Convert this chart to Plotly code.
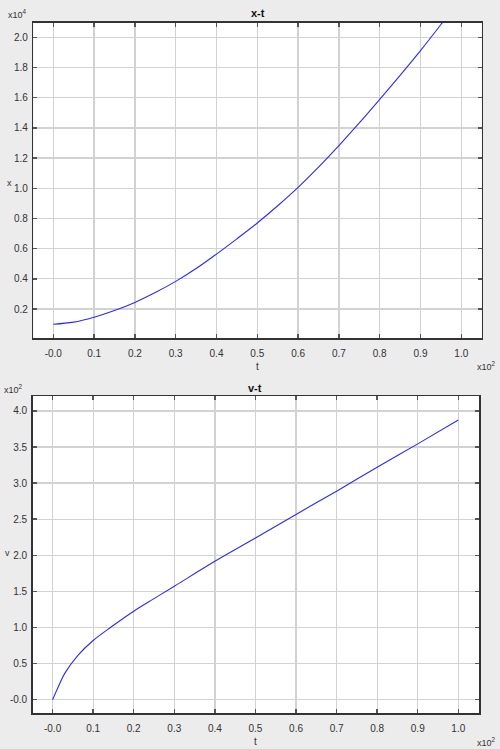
import plotly.graph_objects as go

# ---- data (t in s, x in m, v in m/s) ----
t_x = [0, 5, 10, 15, 20, 25, 30, 35, 40, 45, 50, 55, 60, 65, 70, 75, 80, 85, 90, 95, 100]
x_vals = [990, 1130, 1460, 1900, 2440, 3090, 3830, 4680, 5640, 6650, 7700, 8840,
          10060, 11400, 12830, 14330, 15890, 17480, 19120, 20850, 22640]

t_v = [0, 1.5, 3, 6.3, 10, 14.5, 20, 25, 30, 40, 50, 60, 70, 80, 90, 100]
v_vals = [0, 19, 36.5, 61.8, 82, 101, 122.6, 140, 157.2, 191.7, 223.9, 256.7,
          288.9, 322, 354.4, 387.5]

t_ticks = [0, 10, 20, 30, 40, 50, 60, 70, 80, 90, 100]
t_ticktext = ["-0.0", "0.1", "0.2", "0.3", "0.4", "0.5", "0.6", "0.7", "0.8", "0.9", "1.0"]
x_ticks = [2000, 4000, 6000, 8000, 10000, 12000, 14000, 16000, 18000, 20000]
x_ticktext = ["0.2", "0.4", "0.6", "0.8", "1.0", "1.2", "1.4", "1.6", "1.8", "2.0"]
v_ticks = [0, 50, 100, 150, 200, 250, 300, 350, 400]
v_ticktext = ["-0.0", "0.5", "1.0", "1.5", "2.0", "2.5", "3.0", "3.5", "4.0"]

W, H = 500, 749
FONT = "Liberation Sans, Arial, sans-serif"
LINE = "#2a2aff"

def px(x):
    return x / W

def py(y):
    return 1 - y / H

fig = go.Figure()
fig.add_trace(go.Scatter(x=t_x, y=x_vals, mode="lines",
                         line=dict(color=LINE, width=1.1, shape="spline", smoothing=1.0),
                         xaxis="x", yaxis="y", showlegend=False, hoverinfo="skip"))
fig.add_trace(go.Scatter(x=t_v, y=v_vals, mode="lines",
                         line=dict(color=LINE, width=1.1, shape="spline", smoothing=1.0),
                         xaxis="x2", yaxis="y2", showlegend=False, hoverinfo="skip"))

axis_common = dict(showline=True, linecolor="#333333", linewidth=1.5, mirror="allticks",
                   ticks="inside", ticklen=4, tickcolor="#555555", tickwidth=1.5,
                   showgrid=True, gridcolor="#d2d2d2", gridwidth=1.3, zeroline=False,
                   tickfont=dict(family=FONT, size=10, color="#333333"))

fig.update_layout(
    width=W, height=H,
    margin=dict(l=0, r=0, t=0, b=0),
    paper_bgcolor="#ececec",
    plot_bgcolor="#ffffff",
    xaxis=dict(domain=[px(33.3), px(481.7)], anchor="y", range=[-4.9, 105.0],
               tickvals=t_ticks, ticktext=t_ticktext, ticklabelstandoff=5, **axis_common),
    yaxis=dict(domain=[py(338.3), py(22.7)], anchor="x", range=[60, 20970],
               tickvals=x_ticks, ticktext=x_ticktext, ticklabelstandoff=2, **axis_common),
    xaxis2=dict(domain=[px(32.7), px(479)], anchor="y2", range=[-4.9, 105.1],
                tickvals=t_ticks, ticktext=t_ticktext, ticklabelstandoff=5, **axis_common),
    yaxis2=dict(domain=[py(713.3), py(396)], anchor="x2", range=[-18.8, 420.7],
                tickvals=v_ticks, ticktext=v_ticktext, ticklabelstandoff=2, **axis_common),
)

def ann(text, x, y, size=9, bold=False, xanchor="center", color="#333333"):
    fig.add_annotation(text=f"<b>{text}</b>" if bold else text, x=px(x), y=py(y),
                       xref="paper", yref="paper", showarrow=False, xanchor=xanchor,
                       yanchor="middle", font=dict(family=FONT, size=size, color=color))

# top chart texts
ann("x-t", 257.5, 13, size=11, bold=True, color="#111111")
ann("x10<sup>4</sup>", 6, 14, size=9, xanchor="left")
ann("x", 9, 183, size=9)
ann("t", 257, 366, size=10)
ann("x10<sup>2</sup>", 498, 366, size=9, xanchor="right")

# bottom chart texts
ann("v-t", 255, 388, size=11, bold=True, color="#111111")
ann("x10<sup>2</sup>", 2, 389, size=9, xanchor="left")
ann("v", 7, 553, size=9)
ann("t", 255, 741, size=10)
ann("x10<sup>2</sup>", 498, 742, size=9, xanchor="right")

fig.write_html("out.html", config={"displayModeBar": False, "staticPlot": True},
               post_script="document.body.style.margin='0';document.body.style.padding='0';"
                           "document.body.style.overflow='hidden';")
